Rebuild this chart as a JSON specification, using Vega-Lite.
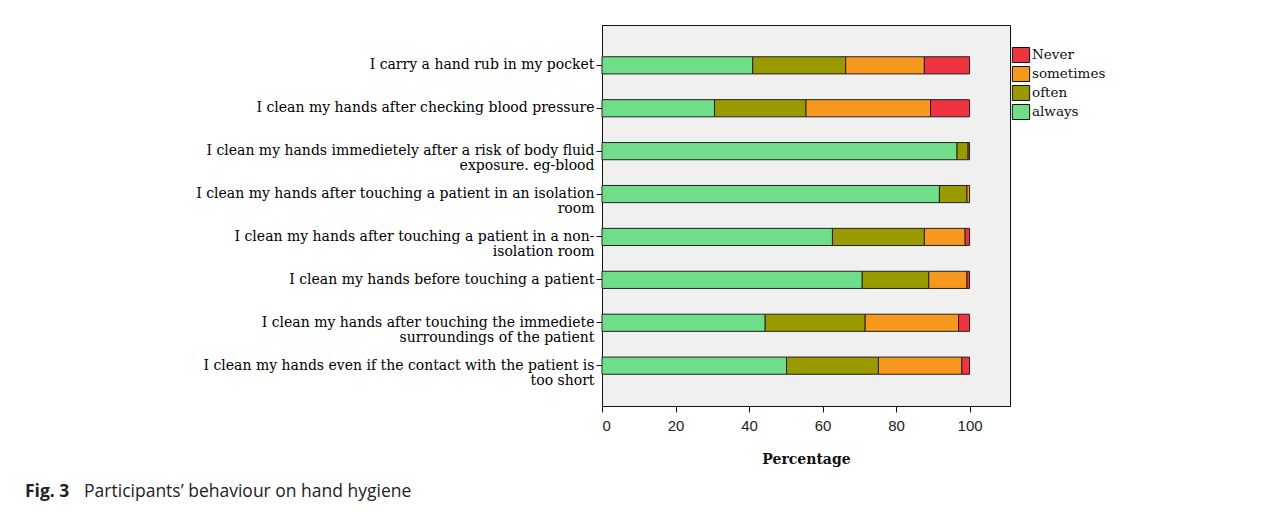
{
  "$schema": "https://vega.github.io/schema/vega-lite/v6.json",
  "autosize": {"type": "none"},
  "padding": {"left": 602, "top": 25, "right": 271, "bottom": 106},
  "width": 408,
  "height": 381,
  "background": "white",
  "title": {
    "text": "Fig. 3",
    "subtitle": "\u200b\u00a0\u00a0\u00a0\u00a0\u00a0\u00a0\u00a0\u00a0\u00a0\u00a0\u00a0\u00a0\u00a0Participants’ behaviour on hand hygiene",
    "orient": "bottom",
    "anchor": "start",
    "frame": "group",
    "dx": -577,
    "offset": 17,
    "font": "Open Sans",
    "fontSize": 17.5,
    "fontWeight": "bold",
    "color": "#222222",
    "subtitleFont": "Open Sans",
    "subtitleFontSize": 17.5,
    "subtitleFontWeight": "normal",
    "subtitleColor": "#222222",
    "subtitlePadding": -17.5
  },
  "data": {
    "values": [
      {"item": "I carry a hand rub in my pocket", "response": "always", "pct": 41.0},
      {"item": "I carry a hand rub in my pocket", "response": "often", "pct": 25.3},
      {"item": "I carry a hand rub in my pocket", "response": "sometimes", "pct": 21.4},
      {"item": "I carry a hand rub in my pocket", "response": "Never", "pct": 12.3},
      {"item": "I clean my hands after checking blood pressure", "response": "always", "pct": 30.6},
      {"item": "I clean my hands after checking blood pressure", "response": "often", "pct": 24.9},
      {"item": "I clean my hands after checking blood pressure", "response": "sometimes", "pct": 33.9},
      {"item": "I clean my hands after checking blood pressure", "response": "Never", "pct": 10.6},
      {"item": "I clean my hands immedietely after a risk of body fluid|exposure. eg-blood", "response": "always", "pct": 96.6},
      {"item": "I clean my hands immedietely after a risk of body fluid|exposure. eg-blood", "response": "often", "pct": 3.0},
      {"item": "I clean my hands immedietely after a risk of body fluid|exposure. eg-blood", "response": "Never", "pct": 0.4},
      {"item": "I clean my hands after touching a patient in an isolation|room", "response": "always", "pct": 91.8},
      {"item": "I clean my hands after touching a patient in an isolation|room", "response": "often", "pct": 7.5},
      {"item": "I clean my hands after touching a patient in an isolation|room", "response": "sometimes", "pct": 0.7},
      {"item": "I clean my hands after touching a patient in a non-|isolation room", "response": "always", "pct": 62.7},
      {"item": "I clean my hands after touching a patient in a non-|isolation room", "response": "often", "pct": 25.0},
      {"item": "I clean my hands after touching a patient in a non-|isolation room", "response": "sometimes", "pct": 11.1},
      {"item": "I clean my hands after touching a patient in a non-|isolation room", "response": "Never", "pct": 1.2},
      {"item": "I clean my hands before touching a patient", "response": "always", "pct": 70.8},
      {"item": "I clean my hands before touching a patient", "response": "often", "pct": 18.1},
      {"item": "I clean my hands before touching a patient", "response": "sometimes", "pct": 10.4},
      {"item": "I clean my hands before touching a patient", "response": "Never", "pct": 0.7},
      {"item": "I clean my hands after touching the immediete|surroundings of the patient", "response": "always", "pct": 44.4},
      {"item": "I clean my hands after touching the immediete|surroundings of the patient", "response": "often", "pct": 27.2},
      {"item": "I clean my hands after touching the immediete|surroundings of the patient", "response": "sometimes", "pct": 25.4},
      {"item": "I clean my hands after touching the immediete|surroundings of the patient", "response": "Never", "pct": 3.0},
      {"item": "I clean my hands even if the contact with the patient is|too short", "response": "always", "pct": 50.2},
      {"item": "I clean my hands even if the contact with the patient is|too short", "response": "often", "pct": 25.0},
      {"item": "I clean my hands even if the contact with the patient is|too short", "response": "sometimes", "pct": 22.7},
      {"item": "I clean my hands even if the contact with the patient is|too short", "response": "Never", "pct": 2.1}
    ]
  },
  "transform": [
    {"calculate": "indexof(['always','often','sometimes','Never'], datum.response)", "as": "stackOrder"}
  ],
  "mark": {"type": "bar", "stroke": "#222222", "strokeWidth": 1},
  "encoding": {
    "y": {
      "field": "item",
      "type": "nominal",
      "sort": null,
      "scale": {"paddingInner": 0.6, "paddingOuter": 0.74},
      "axis": {
        "title": null,
        "labelExpr": "split(datum.value, '|')",
        "labelFont": "DejaVu Serif",
        "labelFontSize": 14,
        "labelColor": "#000000",
        "labelLineHeight": 15,
        "labelLimit": 600,
        "labelPadding": 2,
        "tickSize": 6,
        "tickColor": "#111111",
        "domainColor": "#111111"
      }
    },
    "x": {
      "field": "pct",
      "type": "quantitative",
      "stack": "zero",
      "scale": {"domain": [0, 111], "nice": false},
      "axis": {
        "title": "Percentage",
        "values": [0, 20, 40, 60, 80, 100],
        "grid": false,
        "labelFont": "Liberation Sans",
        "labelFontSize": 15,
        "labelColor": "#222222",
        "labelPadding": 6,
        "tickSize": 6,
        "tickColor": "#111111",
        "domainColor": "#111111",
        "titleFont": "DejaVu Serif",
        "titleFontSize": 14,
        "titleFontWeight": "bold",
        "titleColor": "#111111",
        "titlePadding": 19
      }
    },
    "color": {
      "field": "response",
      "type": "nominal",
      "scale": {
        "domain": ["Never", "sometimes", "often", "always"],
        "range": ["#ef3340", "#f7981e", "#999900", "#70dd88"]
      },
      "legend": {
        "title": null,
        "orient": "none",
        "legendX": 411,
        "legendY": 22,
        "padding": 0,
        "symbolType": "M-1.15,-1L1.15,-1L1.15,1L-1.15,1Z",
        "symbolSize": 225,
        "symbolStrokeColor": "#111111",
        "symbolStrokeWidth": 1,
        "symbolOpacity": 1,
        "labelFont": "DejaVu Serif",
        "labelFontSize": 13.5,
        "labelColor": "#111111",
        "labelOffset": 3,
        "rowPadding": -1
      }
    },
    "order": {"field": "stackOrder", "type": "quantitative"}
  },
  "config": {
    "view": {"fill": "#f0f0f0", "stroke": "#111111", "strokeWidth": 1}
  }
}
